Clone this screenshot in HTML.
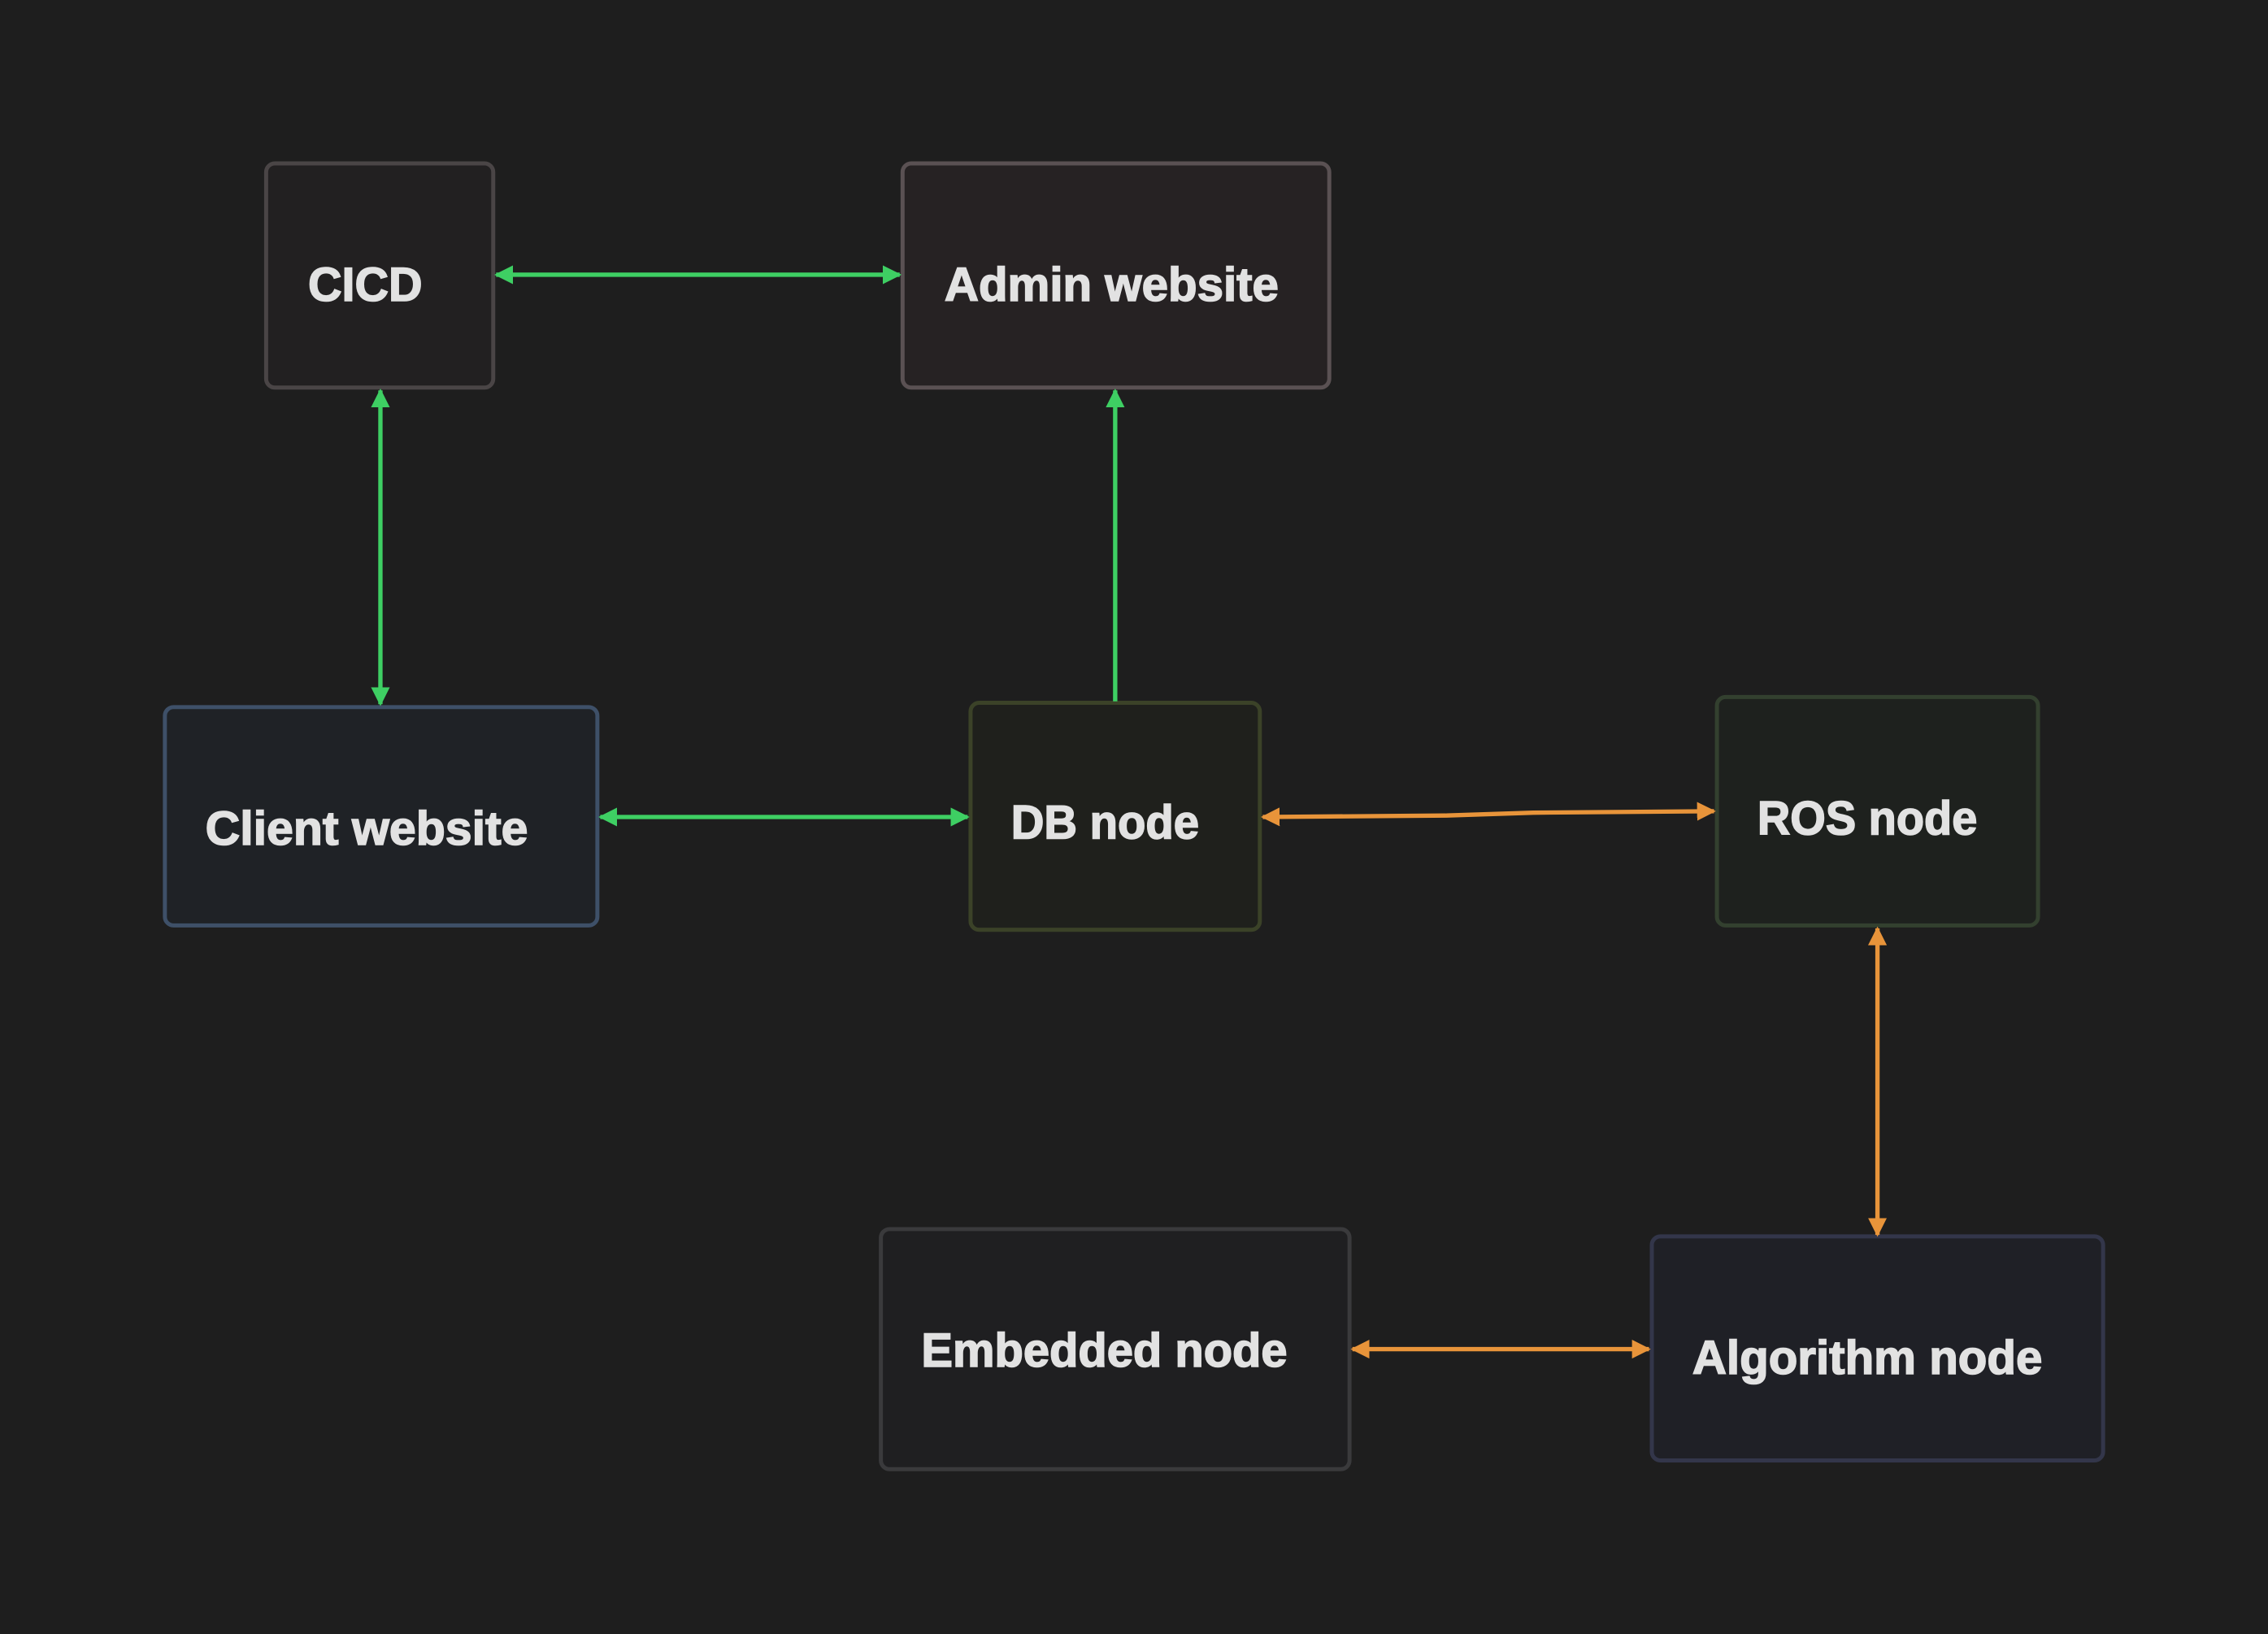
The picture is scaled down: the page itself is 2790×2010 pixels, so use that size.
<!DOCTYPE html>
<html><head><meta charset="utf-8"><style>
html,body{margin:0;padding:0;background:#1e1e1e;}
svg{display:block;}
text{font-family:"Liberation Sans",sans-serif;font-weight:bold;font-size:33px;fill:#e2e2e2;stroke:#e2e2e2;stroke-width:0.9;}
</style></head><body>
<svg width="2790" height="2010" viewBox="0 0 1568 1130" preserveAspectRatio="none" xmlns="http://www.w3.org/2000/svg">
<defs>
<marker id="gm" viewBox="0 0 10 10" refX="9" refY="5" markerWidth="13" markerHeight="13" orient="auto-start-reverse" markerUnits="userSpaceOnUse"><path d="M0,0 L10,5 L0,10 z" fill="#3ecf63"/></marker>
<marker id="om" viewBox="0 0 10 10" refX="9" refY="5" markerWidth="13" markerHeight="13" orient="auto-start-reverse" markerUnits="userSpaceOnUse"><path d="M0,0 L10,5 L0,10 z" fill="#e8943a"/></marker>
</defs>
<rect width="1568" height="1130" fill="#1e1e1e"/>
<g stroke-width="2.8">
<rect x="184" y="113" width="157" height="155" rx="6" fill="#222021" stroke="#4a4546"/>
<rect x="624" y="113" width="295" height="155" rx="6" fill="#262223" stroke="#5a5153"/>
<rect x="114" y="489" width="299" height="151" rx="6" fill="#1f2226" stroke="#3e5068"/>
<rect x="671" y="486" width="200" height="157" rx="6" fill="#1f201c" stroke="#3b4228"/>
<rect x="1187" y="482" width="222" height="158" rx="6" fill="#1e211e" stroke="#33402f"/>
<rect x="609" y="850" width="324" height="166" rx="6" fill="#1f1f21" stroke="#3a3a3c"/>
<rect x="1142" y="855" width="312" height="155" rx="6" fill="#1f2026" stroke="#33364a"/>
</g>
<g stroke-width="3" fill="none">
<line x1="343" y1="190" x2="622" y2="190" stroke="#3ecf63" marker-start="url(#gm)" marker-end="url(#gm)"/>
<line x1="263" y1="270" x2="263" y2="487" stroke="#3ecf63" marker-start="url(#gm)" marker-end="url(#gm)"/>
<line x1="771" y1="485" x2="771" y2="270" stroke="#3ecf63" marker-end="url(#gm)"/>
<line x1="415" y1="565" x2="669" y2="565" stroke="#3ecf63" marker-start="url(#gm)" marker-end="url(#gm)"/>
<path d="M873,565 L1000,564 L1060,562 L1185,561" stroke="#e8943a" marker-start="url(#om)" marker-end="url(#om)"/>
<line x1="1298" y1="642" x2="1298" y2="854" stroke="#e8943a" marker-start="url(#om)" marker-end="url(#om)"/>
<line x1="935" y1="933" x2="1140" y2="933" stroke="#e8943a" marker-start="url(#om)" marker-end="url(#om)"/>
</g>
<text x="213" y="208" textLength="79" lengthAdjust="spacingAndGlyphs">CICD</text>
<text x="653" y="208" textLength="231" lengthAdjust="spacingAndGlyphs">Admin website</text>
<text x="142" y="584" textLength="223" lengthAdjust="spacingAndGlyphs">Client website</text>
<text x="699" y="580" textLength="130" lengthAdjust="spacingAndGlyphs">DB node</text>
<text x="1215" y="577" textLength="152" lengthAdjust="spacingAndGlyphs">ROS node</text>
<text x="637" y="945" textLength="253" lengthAdjust="spacingAndGlyphs">Embedded node</text>
<text x="1170" y="950" textLength="242" lengthAdjust="spacingAndGlyphs">Algorithm node</text>
</svg>
</body></html>
